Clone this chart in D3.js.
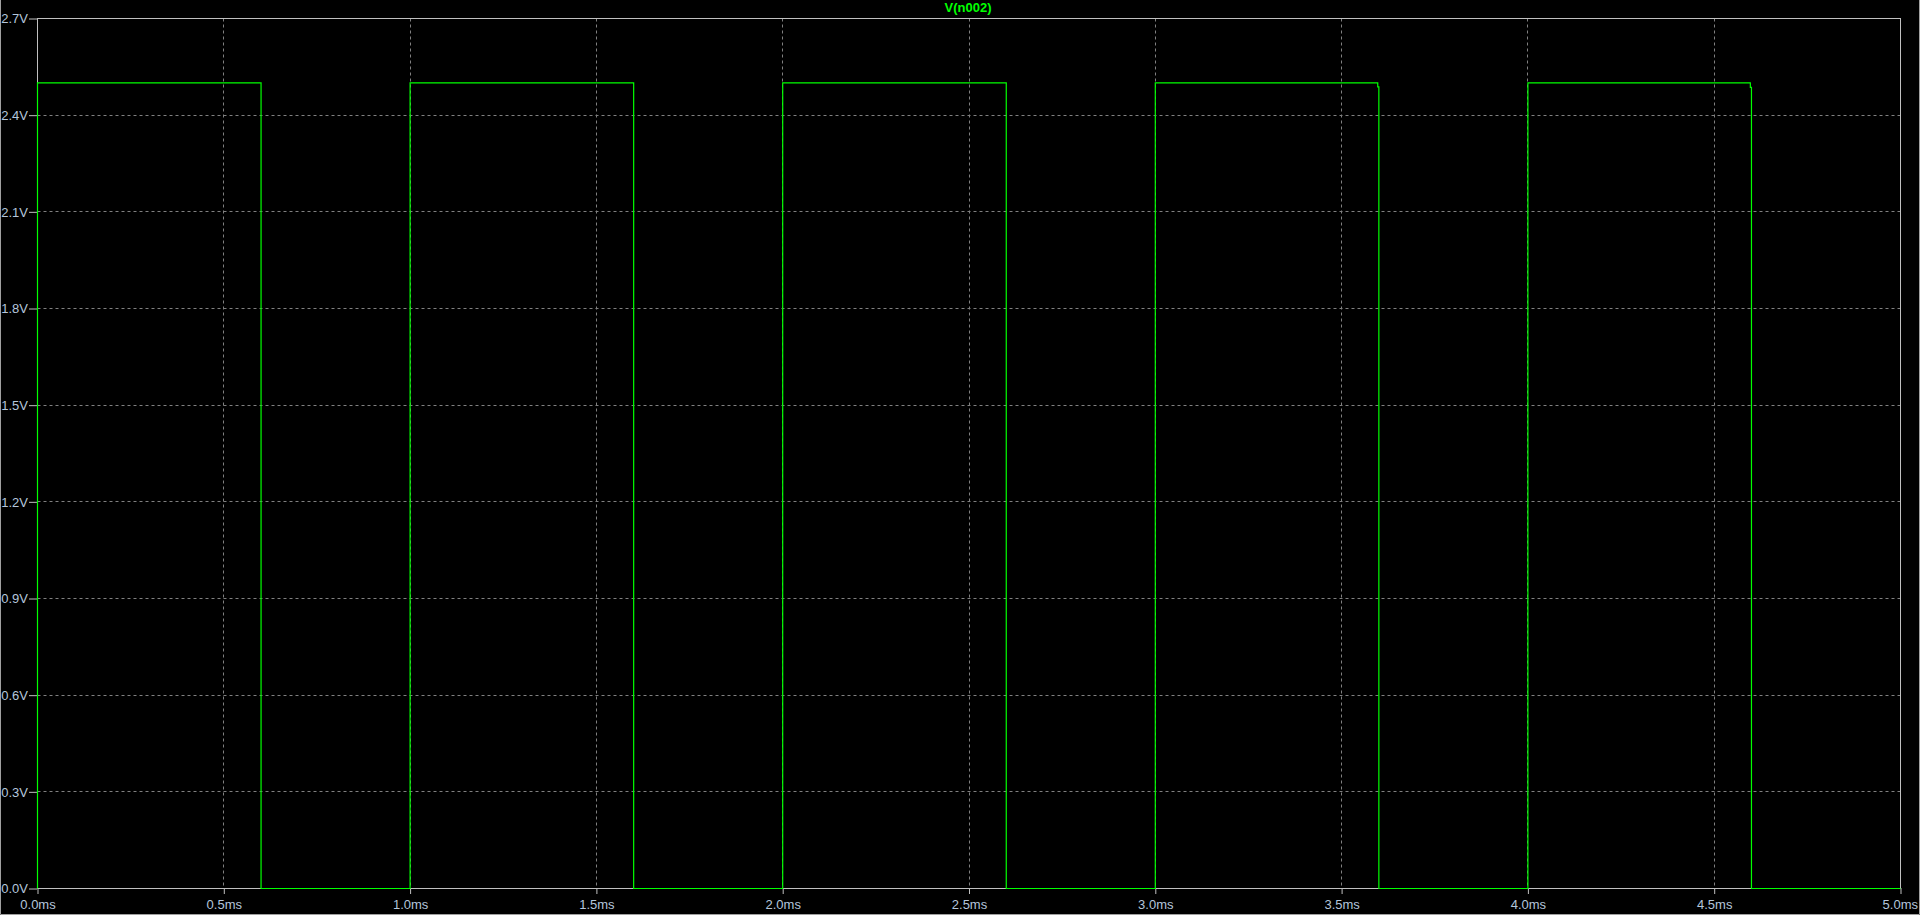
<!DOCTYPE html>
<html>
<head>
<meta charset="utf-8">
<script src="https://cdn.jsdelivr.net/npm/d3@7"></script>
<style>
  html, body { margin: 0; padding: 0; background: #000; overflow: hidden; }
  svg { display: block; }
  .tick-label { font-family: "Liberation Sans", Arial, sans-serif; font-size: 13px; fill: #b4c6dc; }
</style>
</head>
<body>
<svg id="chart" width="1920" height="915"></svg>
<script>
// trace V(n002), time in ms, value in volts
var timeMs = [0, 0, 0.6, 0.6, 1.0, 1.0, 1.6, 1.6, 2.0, 2.0, 2.6, 2.6, 3.0, 3.0, 3.597, 3.597, 3.6, 3.6, 4.0, 4.0, 4.597, 4.597, 4.6, 4.6, 5.0]
var volts  = [0, 2.5, 2.5, 0, 0, 2.5, 2.5, 0, 0, 2.5, 2.5, 0, 0, 2.5, 2.5, 2.488, 2.488, 0, 0, 2.5, 2.5, 2.486, 2.486, 0, 0]

var xTicks = [0, 0.5, 1.0, 1.5, 2.0, 2.5, 3.0, 3.5, 4.0, 4.5, 5.0]
var yTicks = [0, 0.3, 0.6, 0.9, 1.2, 1.5, 1.8, 2.1, 2.4, 2.7]
var traceName = "V(n002)"

function drawChart() {
  var svg = d3.select("#chart")

  // plot area edges (half pixels so 1px lines stay crisp)
  var pLeft = 37.5, pRight = 1900.5, pTop = 18.5, pBottom = 888.5

  var x = d3.scaleLinear().domain([0, 5]).range([pLeft, pRight])
  var y = d3.scaleLinear().domain([0, 2.7]).range([pBottom, pTop])

  // window frame
  svg.append("path")
    .attr("d", "M0.5,0 V914.5 H1919.5 V0")
    .attr("fill", "none")
    .attr("stroke", "#a0a0a0")

  // grid
  var grid = svg.append("g").attr("stroke", "#808080").attr("stroke-dasharray", "3,3")

  grid.selectAll(".vgrid")
    .data(xTicks.slice(1, -1))
    .enter().append("line")
    .attr("x1", function(d) { return Math.round(x(d) - 0.5) + 0.5 })
    .attr("x2", function(d) { return Math.round(x(d) - 0.5) + 0.5 })
    .attr("y1", pTop)
    .attr("y2", pBottom)

  grid.selectAll(".hgrid")
    .data(yTicks.slice(1, -1))
    .enter().append("line")
    .attr("y1", function(d) { return Math.round(y(d) - 0.5) + 0.5 })
    .attr("y2", function(d) { return Math.round(y(d) - 0.5) + 0.5 })
    .attr("x1", pLeft)
    .attr("x2", pRight)

  // axes
  var xAxis = d3.axisBottom(x)
    .tickValues(xTicks)
    .tickSize(6)
    .tickPadding(4)
    .tickFormat(function(d) { return d3.format(".1f")(d) + "ms" })

  var yAxis = d3.axisLeft(y)
    .tickValues(yTicks)
    .tickSize(8)
    .tickPadding(1)
    .tickFormat(function(d) { return d3.format(".1f")(d) + "V" })

  var gx = svg.append("g")
    .attr("transform", "translate(0," + (pBottom - 0.5) + ")")
    .call(xAxis)

  var gy = svg.append("g")
    .attr("transform", "translate(" + (pLeft - 0.5) + ",0)")
    .call(yAxis)

  gx.select(".domain").remove()
  gy.select(".domain").remove()
  svg.selectAll(".tick line").attr("stroke", "#c0c0c0")
  svg.selectAll(".tick text").attr("class", "tick-label").attr("fill", null)
  gx.selectAll(".tick text").attr("dy", "0.85em")
  gx.selectAll(".tick").filter(function(d) { return d === 5 }).select("text")
    .attr("text-anchor", "end").attr("dx", "17")

  // plot border
  svg.append("rect")
    .attr("x", pLeft)
    .attr("y", pTop)
    .attr("width", pRight - pLeft)
    .attr("height", pBottom - pTop)
    .attr("fill", "none")
    .attr("stroke", "#c0c0c0")

  // trace
  var line = d3.line()
    .x(function(d) { return x(d[0]) })
    .y(function(d) { return y(d[1]) })

  var points = timeMs.map(function(t, i) { return [t, volts[i]] })

  svg.append("path")
    .datum(points)
    .attr("d", line)
    .attr("fill", "none")
    .attr("stroke", "#00ff00")
    .attr("stroke-width", 1.2)

  // title
  svg.append("text")
    .attr("x", 968)
    .attr("y", 12)
    .attr("text-anchor", "middle")
    .attr("font-family", "Liberation Sans, Arial, sans-serif")
    .attr("font-size", 13)
    .attr("font-weight", "bold")
    .attr("fill", "#00ff00")
    .text(traceName)
}

drawChart()
</script>
</body>
</html>
